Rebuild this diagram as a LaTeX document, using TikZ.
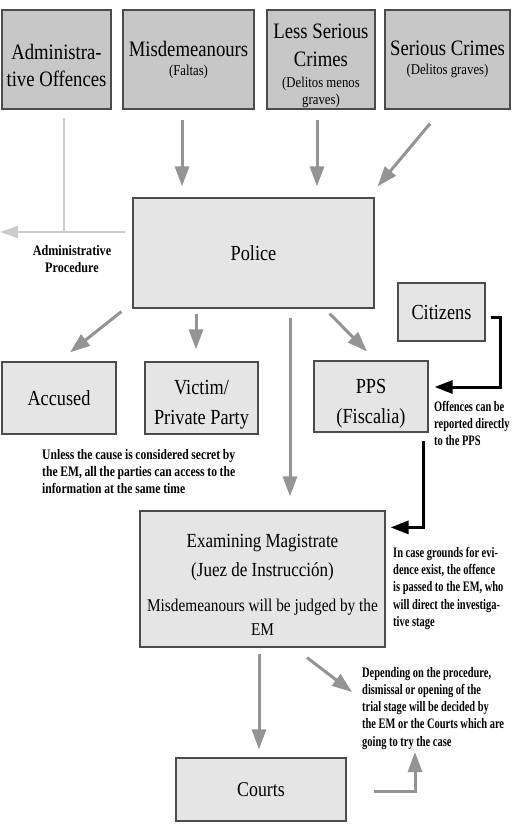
\documentclass[tikz,border=0pt]{standalone}
\usepackage{fontspec}
\setmainfont{Liberation Serif}[FakeStretch=0.85]
\newfontfamily\notewide{Liberation Serif}[FakeStretch=0.84]
\newfontfamily\notefont{Liberation Serif}[FakeStretch=0.8]
\newfontfamily\notetight{Liberation Serif}[FakeStretch=0.72]
\usetikzlibrary{arrows.meta}
\usetikzlibrary{calc}

\newcommand{\sublabel}[1]{{\fontsize{15}{17}\selectfont #1}}
\newcommand{\emline}[1]{{\fontsize{18}{24}\selectfont #1}}
\newcommand{\lowerby}[1]{\rule{0pt}{#1}}

\begin{document}
\begin{tikzpicture}[x=1pt, y=-1pt,
  darkbox/.style={draw=black!70, line width=1.2pt, fill=black!22, align=center,
    inner sep=0pt, font=\fontsize{22}{27}\selectfont},
  lightbox/.style={draw=black!70, line width=1.2pt, fill=black!10, align=center,
    inner sep=0pt, font=\fontsize{21.5}{30}\selectfont},
  note/.style={inner sep=0pt, align=left, font=\notefont\bfseries\fontsize{14.5}{17}\selectfont},
  tightnote/.style={note, font=\notetight\bfseries\fontsize{14.5}{17.2}\selectfont},
  flow/.style={draw=black!42, line width=3pt, -{Triangle[length=20pt,width=14pt]}},
  pale/.style={draw=black!20, line width=2pt},
  report/.style={draw=black, line width=3pt, -{Triangle[length=18pt,width=13pt]}}]
\useasboundingbox (0,0) rectangle (516,827);

% offences
\node[darkbox, minimum width=109pt, minimum height=99pt] (adm) at (56.5,59.5)
  {\lowerby{26.5pt}Administra-\\tive Offences};
\node[darkbox, minimum width=131pt, minimum height=99pt] (misd) at (188.5,59.5)
  {Misdemeanours\\[-8pt]\sublabel{(Faltas)}};
\node[darkbox, minimum width=108pt, minimum height=99pt] (less) at (321,59.5)
  {\lowerby{27.5pt}Less Serious\\[1pt]Crimes\\[-6pt]\sublabel{(Delitos menos}\\[-10pt]\sublabel{graves)}};
\node[darkbox, minimum width=125pt, minimum height=99pt] (serious) at (447.5,59.5)
  {Serious Crimes\\[-8pt]\sublabel{(Delitos graves)}};

% police and reporting
\node[lightbox, minimum width=241pt, minimum height=110pt] (police) at (253.5,253) {Police};
\node[lightbox, minimum width=87pt, minimum height=58pt] (citizens) at (441.5,312) {Citizens};
\node[note, align=center, font=\notewide\bfseries\fontsize{14.5}{17.5}\selectfont] (admproc) at (72,259)
  {Administrative\\Procedure};

% parties
\node[lightbox, minimum width=114pt, minimum height=72pt] (accused) at (59,398) {Accused};
\node[lightbox, minimum width=113pt, minimum height=72pt] (victim) at (201.5,398) {\lowerby{28pt}Victim/\\Private Party};
\node[lightbox, minimum width=114pt, minimum height=71pt] (pps) at (371,396.5) {\lowerby{28pt}PPS\\(Fiscalia)};
\node[tightnote, anchor=north west] (direct) at (434,401) {Offences can be\\reported directly\\to the PPS};
\node[note, anchor=north west, text width=193pt, align=justify] (secret) at (42,449.5)
  {Unless the cause is considered secret by\linebreak the EM, all the parties can access to the\linebreak information at the same time};

% instruction and trial
\node[lightbox, minimum width=245pt, minimum height=136pt, font=\fontsize{20}{29}\selectfont] (em) at (262.5,579)
  {\lowerby{24pt}Examining Magistrate\\(Juez de Instrucción)\\[6pt]\emline{Misdemeanours will be judged by the}\\[-5pt]\emline{EM}};
\node[tightnote, anchor=north west] (grounds) at (393,547)
  {In case grounds for evi-\\dence exist, the offence\\is passed to the EM, who\\will direct the investiga-\\tive stage};
\node[lightbox, minimum width=170pt, minimum height=63pt, font=\fontsize{21}{25}\selectfont] (courts) at (261,789.5) {Courts};
\node[tightnote, anchor=north west] (decide) at (362,667)
  {Depending on the procedure,\\dismissal or opening of the\\trial stage will be decided by\\the EM or the Courts which are\\going to try the case};

% connectors
\coordinate (junc) at (64,232);
\coordinate (exit) at (0,232);
\draw[pale, shorten <=8pt] (adm.south -| junc) -- (junc);
\draw[pale, -{Triangle[length=18pt,width=12pt]}, shorten <=7pt] (police.west |- junc) -- (exit);
\draw[flow, shorten <=10pt, shorten >=11pt] ([xshift=-6.5pt]misd.south) -- ([xshift=-6.5pt]misd.south |- police.north);
\draw[flow, shorten <=10pt, shorten >=11pt] ([xshift=-4pt]less.south) -- ([xshift=-4pt]less.south |- police.north);
\draw[flow] ([xshift=-17.5pt,yshift=-14pt]serious.south) -- ([xshift=3pt,yshift=11pt]police.north east);
\draw[flow] ([xshift=-11pt,yshift=-3pt]police.south west) -- ([xshift=11pt,yshift=9pt]accused.north);
\draw[flow, shorten <=5pt, shorten >=12pt] ([xshift=-5.5pt]victim.north |- police.south) -- ([xshift=-5.5pt]victim.north);
\draw[flow, shorten <=9pt, shorten >=14pt] ([xshift=36.5pt]police.south) -- ([xshift=36.5pt]police.south |- em.north);
\draw[flow] ([xshift=-45pt,yshift=-5pt]police.south east) -- ([xshift=-4pt,yshift=9pt]pps.north);
\draw[report] ([xshift=5pt,yshift=-5pt]citizens.east) -- ++(10,0) |- ([xshift=6pt,yshift=9.5pt]pps.east);
\draw[report] ([xshift=-5pt,yshift=-8pt]pps.south east) |- ([xshift=5pt,yshift=-17pt]em.north east);
\draw[flow, shorten <=6pt, shorten >=8pt] ([xshift=-2pt]courts.north |- em.south) -- ([xshift=-2pt]courts.north);
\draw[flow] ([xshift=44.5pt,yshift=-10pt]em.south) -- ([xshift=-10pt,yshift=-25pt]decide.north west);
\draw[flow] ([xshift=27pt,yshift=-1.5pt]courts.east) -| ([xshift=53pt,yshift=-85pt]decide.north west);
\end{tikzpicture}
\end{document}
